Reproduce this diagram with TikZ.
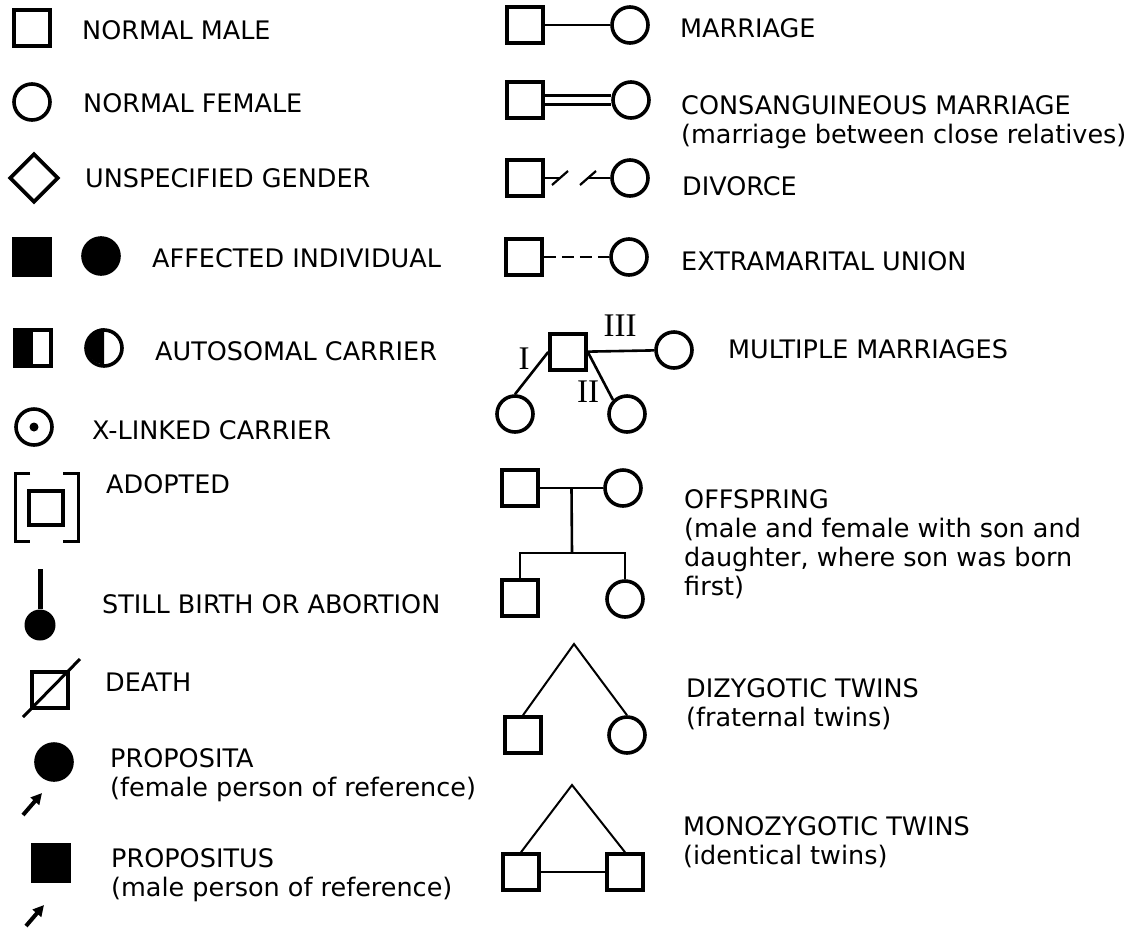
\documentclass[tikz,border=0pt]{standalone}
\usepackage{fontspec}
\setmainfont{DejaVu Sans}
\newfontfamily\romanfont{Liberation Serif}
\usetikzlibrary{arrows.meta}
\usetikzlibrary{positioning,calc,shapes.geometric}
\tikzset{male/.style={rectangle,draw,line width=3.6pt,minimum size=36pt,inner sep=0pt},
		female/.style={circle,draw,line width=3.6pt,minimum size=36pt,inner sep=0pt},
		unknown/.style={diamond,draw,line width=3.6pt,minimum size=49pt,inner sep=0pt},
		affected/.style={fill=black},
		legend/.style={anchor=north west,inner sep=0pt,align=left,
		               font=\fontsize{25.5}{29}\selectfont},
		roman/.style={inner sep=0pt,font=\romanfont\fontsize{33}{34}\selectfont},
		edge/.style={line width=2.6pt},
		twinEdge/.style={line width=2pt},
		slash/.style={line width=2.2pt},
		pointer/.style={-{Triangle[length=11pt,width=11pt]},line width=4pt},
		bracket/.style={line width=3pt}}

\begin{document}
\begin{tikzpicture}[x=1pt,y=-1pt]
		\useasboundingbox (0,0) rectangle (1132,930);
		%left column
		\node at (32,28) [male] (nm){};
		\node at (82,20) [legend] (tnm){NORMAL MALE};
		\node at (32,102) [female] (nf){};
		\node at (83,93) [legend] (tnf){NORMAL FEMALE};
		\node at (34,178) [unknown] (ug){};
		\node at (85,168) [legend] (tug){UNSPECIFIED GENDER};
		\node at (32,257) [male,affected] (am){};
		\node at (101,256) [female,affected] (af){};
		\node at (152,248) [legend] (taf){AFFECTED INDIVIDUAL};
		\node at (33,348) [male] (acm){};
		\node at (104,348) [female] (acf){};
		\fill (acm.south west) rectangle (acm.north);
		\fill (acf.north) arc[start angle=90,end angle=270,radius=18pt] -- cycle;
		\node at (155,341) [legend] (tac){AUTOSOMAL CARRIER};
		\node at (34,427) [female] (xc){};
		\fill (xc) circle[radius=4.5pt];
		\node at (92,420) [legend] (txc){X-LINKED CARRIER};
		\node at (46,508) [male,minimum size=34pt] (ad){};
		\draw[bracket] (30,473) -- (15,473) -- (15,541) -- (30,541);
		\draw[bracket] (63,473) -- (78,473) -- (78,541) -- (63,541);
		\node at (106,474) [legend] (tad){ADOPTED};
		\node at (40,625) [circle,fill=black,minimum size=31pt,inner sep=0pt] (sb){};
		\coordinate (sbTop) at (40,569);
		\draw[line width=5pt] (sbTop) -- (sb);
		\node at (102,594) [legend] (tsb){STILL BIRTH OR ABORTION};
		\node at (50,690) [male] (dth){};
		\coordinate (dthA) at (23,717);
		\coordinate (dthB) at (80,659);
		\draw[line width=3pt] (dthA) -- (dthB);
		\node at (105,673) [legend] (tdth){DEATH};
		\node at (54,762) [female,affected] (psa){};
		\coordinate (psaTail) at (23,815);
		\coordinate (psaTip) at (42,793);
		\draw[pointer] (psaTail) -- (psaTip);
		\node at (110,748) [legend] (tpsa){PROPOSITA\\(female person of reference)};
		\node at (51,863) [male,affected] (pss){};
		\coordinate (pssTail) at (26,926);
		\coordinate (pssTip) at (44,905);
		\draw[pointer] (pssTail) -- (pssTip);
		\node at (111,848) [legend] (tpss){PROPOSITUS\\(male person of reference)};

		%right column
		\node at (525,25) [male] (mrM){};
		\node at (630,25) [female] (mrF){};
		\draw[edge] (mrM) -- (mrF);
		\node at (680,18) [legend] (tmr){MARRIAGE};
		\node at (525,100) [male] (cgM){};
		\node at (631,100) [female] (cgF){};
		\draw[edge] ([yshift=4.5pt]cgM.east) -- ([yshift=4.5pt]cgF.west);
		\draw[edge] ([yshift=-4.5pt]cgM.east) -- ([yshift=-4.5pt]cgF.west);
		\node at (681,95) [legend] (tcg){CONSANGUINEOUS MARRIAGE\\(marriage between close relatives)};
		\node at (525,178) [male] (dvM){};
		\node at (630,178) [female] (dvF){};
		\coordinate (dvA) at (560,178);
		\coordinate (dvB) at (588,178);
		\draw[edge] (dvM) -- (dvA);
		\draw[edge] (dvB) -- (dvF);
		\draw[slash] ($(dvA)+(-8,7)$) -- ($(dvA)+(8,-7)$);
		\draw[slash] ($(dvB)+(-8,7)$) -- ($(dvB)+(8,-7)$);
		\node at (682,176) [legend] (tdv){DIVORCE};
		\node at (524,257) [male] (emM){};
		\node at (629,257) [female] (emF){};
		\draw[edge,dash pattern=on 12pt off 6pt] (emM) -- (emF);
		\node at (681,251) [legend] (tem){EXTRAMARITAL UNION};

		\node at (568,352) [male] (mm){};
		\node at (674,350) [female] (wIII){};
		\node at (515,414) [female] (wI){};
		\node at (627,414) [female] (wII){};
		\draw[edge] (mm) -- (wIII);
		\draw[edge] (mm.west) -- (wI.north);
		\draw[edge] (mm.east) -- (wII.north west);
		\node at (524,359) [roman] (lI){I};
		\node at (588,392) [roman] (lII){II};
		\node at (620,326) [roman] (lIII){III};
		\node at (728,339) [legend] (tmm){MULTIPLE MARRIAGES};

		\node at (520,488) [male] (fa){};
		\node at (623,488) [female] (mo){};
		\node at (520,598) [male] (son){};
		\node at (625,599) [female] (dau){};
		\coordinate (sib) at (572,553);
		\draw[edge] (fa) -- (mo);
		\draw[edge] ($(fa)!0.5!(mo)$) -- (sib);
		\draw[edge] (son.north) |- (sib) -| (dau.north);
		\node at (684,489) [legend] (tos){OFFSPRING\\(male and female with son and\\daughter, where son was born\\first)};

		\coordinate (dzTop) at (574,644);
		\node at (523,735) [male] (dzM){};
		\node at (627,735) [female] (dzF){};
		\draw[twinEdge] (dzM.north) -- (dzTop) -- (dzF.north);
		\node at (686,678) [legend] (tdz){DIZYGOTIC TWINS\\(fraternal twins)};

		\coordinate (mzTop) at (572,785);
		\node at (521,872) [male] (mzA){};
		\node at (625,872) [male] (mzB){};
		\draw[twinEdge] (mzA.north) -- (mzTop) -- (mzB.north);
		\draw[edge] (mzA) -- (mzB);
		\node at (683,816) [legend] (tmz){MONOZYGOTIC TWINS\\(identical twins)};
\end{tikzpicture}
\end{document}
